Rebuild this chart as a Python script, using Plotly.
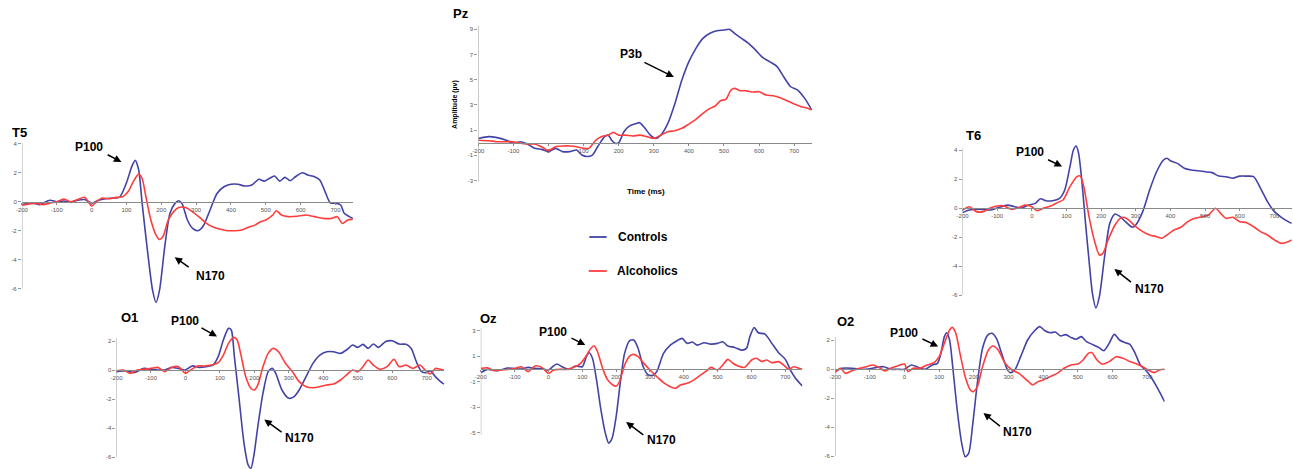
import plotly.graph_objects as go

W, H = 1293, 469
BLUE = "#4343a6"
RED = "#ff3d3d"
FONT = "Liberation Sans, Arial, sans-serif"

X_TICKS = [-200, -100, 0, 100, 200, 300, 400, 500, 600, 700]

# ---------------- data: (time ms, amplitude uV) ----------------
T5_CTRL = [(-200,-0.2),(-170,-0.1),(-150,-0.2),(-120,0.1),(-100,0.0),(-80,0.05),(-60,-0.05),(-40,0.1),(-20,0.15),(0,-0.1),
           (20,0.1),(40,0.2),(60,0.25),(80,0.3),(100,1.3),(115,2.4),(125,2.85),(135,2.2),(145,-0.1),(160,-3.3),
           (175,-6.1),(185,-6.95),(195,-6.1),(210,-3.1),(225,-0.8),(240,-0.1),(250,0.07),(260,-0.15),(275,-1.26),(290,-1.84),
           (305,-2.0),(320,-1.7),(340,-0.57),(360,0.57),(380,1.03),(400,1.2),(420,1.2),(440,1.08),(460,1.15),(480,1.55),
           (495,1.42),(510,1.6),(525,1.77),(540,1.42),(555,1.68),(570,1.45),(585,1.72),(605,2.0),(620,1.84),(640,1.72),
           (655,1.5),(670,0.7),(685,-0.07),(700,-0.1),(715,-0.23),(725,-0.8),(740,-1.03),(750,-1.15)]
T5_ALC = [(-200,-0.25),(-180,-0.15),(-160,-0.1),(-140,-0.2),(-120,-0.1),(-100,0.0),(-80,0.18),(-60,0.0),(-40,0.15),(-20,0.3),
          (0,-0.3),(10,-0.1),(30,0.25),(50,0.2),(70,0.3),(90,0.35),(105,0.7),(120,1.4),(135,1.9),(145,1.6),
          (155,0.46),(170,-1.26),(185,-2.3),(195,-2.6),(205,-2.4),(220,-1.26),(235,-0.7),(250,-0.4),(270,-0.4),(290,-0.7),
          (310,-1.08),(330,-1.5),(350,-1.77),(370,-1.9),(390,-2.0),(410,-2.0),(430,-1.95),(450,-1.77),(470,-1.6),(485,-1.38),
          (500,-1.26),(520,-0.92),(530,-0.62),(545,-0.92),(565,-1.03),(590,-1.0),(615,-0.92),(640,-1.03),(665,-1.15),(690,-1.15),
          (705,-1.03),(720,-1.5),(735,-1.26),(750,-1.2)]

PZ_CTRL = [(-200,0.34),(-170,0.48),(-150,0.42),(-120,0.2),(-100,-0.05),(-80,0.08),(-60,-0.1),(-40,-0.45),(-20,-0.53),(0,-0.71),
           (20,-0.45),(40,-0.71),(60,-0.71),(80,-0.58),(95,-0.98),(110,-1.1),(125,-0.98),(140,-0.32),(160,0.48),(170,0.6),
           (180,0.2),(190,-0.05),(200,0.0),(215,0.87),(230,1.32),(250,1.53),(260,1.59),(275,1.14),(290,0.6),(305,0.34),
           (320,0.6),(340,1.53),(360,3.1),(380,4.97),(400,6.43),(420,7.49),(440,8.28),(460,8.68),(480,8.89),(500,8.94),
           (515,9.0),(530,8.68),(550,8.28),(570,7.88),(590,7.35),(610,6.77),(630,6.43),(650,6.08),(670,5.24),(690,4.44),
           (710,4.18),(730,3.52),(750,2.6)]
PZ_ALC = [(-200,0.2),(-170,0.16),(-150,0.08),(-120,0.08),(-100,0.08),(-80,-0.05),(-60,-0.1),(-40,-0.1),(-20,-0.32),(0,-0.63),
          (20,-0.32),(40,-0.26),(60,-0.26),(80,-0.32),(100,-0.45),(115,-0.45),(135,0.2),(150,0.48),(170,0.6),(185,0.82),
          (200,0.6),(220,0.6),(240,0.53),(260,0.6),(280,0.48),(300,0.34),(320,0.6),(340,0.87),(360,0.95),(380,1.14),
          (400,1.48),(420,1.85),(440,2.33),(460,2.72),(475,2.91),(490,3.33),(505,3.44),(520,4.18),(530,4.31),(545,4.13),
          (560,4.13),(580,4.02),(600,4.05),(620,3.78),(640,3.73),(660,3.57),(680,3.33),(700,3.07),(720,2.86),(740,2.72),
          (750,2.6)]

T6_CTRL = [(-200,-0.32),(-180,-0.14),(-150,-0.09),(-120,-0.14),(-100,0.0),(-70,0.2),(-50,0.09),(-30,0.0),(-10,0.2),(10,0.32),
           (25,0.64),(40,0.5),(60,0.5),(80,0.67),(95,1.24),(110,2.85),(120,4.0),(128,4.28),(135,3.77),(145,1.7),
           (155,-1.06),(165,-3.6),(175,-5.9),(185,-6.9),(195,-6.1),(210,-3.36),(225,-1.06),(240,-0.41),(255,-0.6),(270,-0.94),
           (290,-1.33),(300,-1.17),(320,-0.25),(340,1.24),(360,2.5),(380,3.31),(390,3.43),(400,3.26),(420,3.08),(440,2.74),
           (460,2.62),(480,2.57),(500,2.5),(520,2.44),(540,2.2),(560,2.16),(580,2.05),(600,2.2),(620,2.2),(640,2.16),
           (660,1.36),(680,0.44),(700,-0.25),(720,-0.64),(740,-0.94),(750,-1.06)]
T6_ALC = [(-200,-0.14),(-180,0.09),(-160,-0.25),(-140,-0.25),(-120,0.0),(-100,0.14),(-80,0.14),(-60,-0.09),(-40,0.0),(-20,0.2),
          (0,0.09),(15,-0.18),(35,0.0),(55,0.14),(75,0.39),(90,0.55),(110,1.47),(130,2.16),(140,2.2),(150,1.47),
          (165,-0.6),(180,-2.2),(195,-3.24),(205,-3.13),(220,-2.2),(240,-1.17),(255,-0.71),(265,-0.64),(280,-0.83),(300,-1.29),
          (320,-1.63),(340,-1.86),(360,-1.98),(375,-2.09),(390,-1.86),(410,-1.52),(430,-1.33),(450,-0.94),(470,-0.71),(490,-0.6),
          (510,-0.48),(530,-0.02),(545,-0.37),(560,-0.71),(580,-0.64),(600,-0.94),(620,-1.01),(640,-1.29),(660,-1.63),(680,-1.86),
          (700,-2.2),(720,-2.44),(740,-2.32),(750,-2.2)]

O1_CTRL = [(-200,-0.11),(-170,-0.05),(-150,-0.18),(-120,0.11),(-100,0.05),(-80,0.0),(-60,0.0),(-40,0.18),(-20,0.11),(0,0.0),
           (20,0.28),(40,0.18),(60,0.23),(80,0.34),(95,0.92),(110,2.07),(125,2.87),(133,2.76),(142,0.92),(155,-1.84),
           (170,-5.06),(182,-6.55),(190,-6.78),(198,-5.98),(210,-3.9),(225,-1.6),(240,-0.11),(252,0.11),(262,-0.23),(280,-1.38),
           (300,-1.95),(315,-1.84),(330,-1.38),(350,-0.46),(370,0.46),(390,1.03),(410,1.26),(430,1.26),(450,1.15),(470,1.43),
           (485,1.72),(500,1.56),(515,1.77),(530,1.49),(545,1.79),(560,1.56),(580,1.95),(600,2.02),(620,1.79),(640,1.77),
           (655,1.49),(670,0.57),(685,-0.11),(700,-0.18),(710,-0.05),(725,-0.46),(740,-0.8),(750,-0.97)]
O1_ALC = [(-200,-0.05),(-180,0.0),(-160,-0.23),(-140,0.0),(-120,0.05),(-100,0.11),(-80,0.18),(-60,-0.11),(-40,0.18),(-20,0.23),
          (0,-0.23),(15,0.0),(35,0.28),(55,0.28),(75,0.34),(95,0.51),(110,1.03),(125,1.84),(140,2.25),(150,2.07),
          (160,1.15),(175,-0.46),(190,-1.26),(200,-1.38),(210,-1.03),(225,0.23),(240,1.15),(255,1.49),(270,1.26),(290,0.46),
          (310,-0.11),(330,-0.8),(350,-1.15),(370,-1.22),(390,-1.15),(410,-1.03),(430,-0.97),(450,-0.69),(470,-0.28),(485,0.0),
          (500,-0.11),(515,0.23),(530,0.69),(545,0.34),(565,0.05),(585,0.23),(605,0.74),(620,0.23),(640,0.34),(660,0.11),
          (680,0.34),(695,0.0),(710,-0.28),(725,0.11),(740,0.05),(750,0.0)]

OZ_CTRL = [(-200,-0.29),(-180,-0.03),(-150,-0.13),(-120,0.08),(-100,0.03),(-80,0.0),(-60,0.13),(-40,0.05),(-20,0.03),(0,-0.08),
           (15,0.24),(25,0.39),(40,0.18),(60,-0.03),(80,0.24),(100,0.18),(112,0.97),(120,1.28),(130,0.84),(142,-0.86),
           (155,-3.22),(168,-5.05),(178,-5.84),(188,-5.45),(200,-3.74),(212,-1.13),(225,1.23),(240,2.23),(252,2.28),(265,1.62),
           (280,0.18),(295,-0.47),(310,-0.47),(320,-0.21),(340,1.23),(360,1.88),(380,2.23),(395,2.41),(410,2.02),(425,2.12),
           (440,1.88),(460,2.07),(480,1.96),(500,2.02),(515,2.15),(530,1.81),(550,1.7),(570,1.49),(585,1.62),(595,2.54),
           (608,3.27),(620,2.85),(640,2.75),(660,2.02),(680,1.28),(700,0.76),(715,-0.08),(730,-0.73),(750,-1.34)]
OZ_ALC = [(-200,0.05),(-180,0.1),(-160,-0.13),(-140,-0.08),(-120,-0.03),(-100,0.03),(-80,0.18),(-60,-0.21),(-40,0.24),(-20,0.13),
          (0,-0.34),(15,-0.08),(35,-0.03),(55,-0.03),(75,0.13),(95,0.45),(110,0.97),(125,1.62),(135,1.83),(145,1.36),
          (160,0.05),(175,-0.86),(190,-1.26),(200,-1.34),(210,-0.99),(225,0.31),(240,1.02),(250,1.15),(265,0.97),(280,0.5),
          (300,-0.08),(320,-0.6),(340,-1.07),(360,-1.39),(375,-1.52),(390,-1.26),(410,-1.13),(430,-0.86),(450,-0.47),(470,-0.08),
          (480,0.13),(500,-0.08),(515,0.31),(530,0.76),(545,0.45),(560,0.24),(580,0.13),(600,0.71),(615,0.84),(630,0.58),
          (645,0.71),(660,0.5),(680,0.58),(695,0.31),(710,-0.03),(725,0.18),(740,0.05),(750,-0.03)]

O2_CTRL = [(-200,-0.18),(-180,0.05),(-150,0.05),(-120,-0.02),(-100,0.02),(-80,0.11),(-60,0.16),(-40,-0.02),(-20,-0.02),(0,-0.02),
           (20,0.28),(40,0.11),(60,-0.02),(80,0.28),(95,0.39),(105,1.08),(115,2.23),(122,2.5),(130,2.0),(140,-0.07),
           (152,-2.83),(165,-5.13),(175,-6.05),(185,-5.82),(197,-3.75),(210,-0.99),(225,1.43),(240,2.34),(252,2.46),(265,2.11),
           (280,1.08),(295,0.05),(305,-0.25),(318,-0.07),(335,0.85),(355,2.0),(375,2.64),(390,2.92),(405,2.64),(420,2.5),
           (435,2.55),(450,2.28),(465,2.37),(480,2.18),(495,2.05),(510,2.23),(525,1.89),(545,1.66),(560,1.49),(575,1.26),
           (590,1.77),(605,2.39),(620,2.0),(635,1.82),(650,1.7),(665,1.08),(680,0.28),(695,-0.07),(710,-0.53),(730,-1.33),
           (750,-2.25)]
O2_ALC = [(-200,-0.25),(-185,0.05),(-170,-0.3),(-150,-0.11),(-130,0.05),(-110,0.16),(-90,0.28),(-70,0.05),(-55,-0.14),(-40,0.05),
          (-20,0.21),(0,0.34),(10,-0.18),(25,0.05),(45,0.05),(65,0.28),(85,0.44),(100,0.85),(115,1.77),(130,2.69),
          (138,2.87),(148,2.46),(160,1.08),(175,-0.53),(190,-1.45),(198,-1.56),(210,-1.22),(225,0.16),(242,1.31),(255,1.59),
          (270,1.31),(290,0.39),(310,-0.07),(330,-0.3),(350,-0.71),(370,-1.1),(385,-0.87),(400,-0.76),(420,-0.53),(440,-0.3),
          (460,0.05),(480,0.28),(500,0.34),(515,0.62),(530,1.08),(540,1.13),(555,0.62),(570,0.34),(590,0.51),(610,0.85),
          (630,0.74),(650,0.51),(670,0.34),(690,0.11),(705,-0.11),(720,-0.25),(735,-0.07),(750,-0.02)]

PANEL_NAMES = ["T5", "Pz", "T6", "O1", "Oz", "O2"]
Y_TICKS = {
    "T5": [-6, -4, -2, 0, 2, 4],
    "Pz": [-3, -1, 1, 3, 5, 7, 9],
    "T6": [-6, -4, -2, 0, 2, 4],
    "O1": [-6, -4, -2, 0, 2],
    "Oz": [-5, -3, -1, 1, 3],
    "O2": [-6, -4, -2, 0, 2],
}
SERIES = {
    "T5": (T5_CTRL, T5_ALC), "Pz": (PZ_CTRL, PZ_ALC), "T6": (T6_CTRL, T6_ALC),
    "O1": (O1_CTRL, O1_ALC), "Oz": (OZ_CTRL, OZ_ALC), "O2": (O2_CTRL, O2_ALC),
}
LEGEND_NAMES = ["Controls", "Alcoholics"]

# ---------------- layout geometry (pixels) ----------------
GEOM = {
    "T5": dict(xa=16, xb=348.5, yz=201.7, k=14.5, lo=-7.5, hi=4.4, alo=-6, ahi=4.05),
    "Pz": dict(xa=474.5, xb=809.5, yz=142.7, k=12.6, lo=-3.4, hi=9.6, alo=-3.1, ahi=9.25),
    "T6": dict(xa=961, xb=1291.7, yz=208, k=14.5, lo=-7.3, hi=4.6, alo=-6, ahi=4.1),
    "O1": dict(xa=111, xb=440, yz=370, k=14.5, lo=-7.5, hi=3.2, alo=-6, ahi=2.2),
    "Oz": dict(xa=477, xb=800, yz=369, k=12.7, lo=-6.8, hi=3.9, alo=-5.2, ahi=3.25),
    "O2": dict(xa=833, xb=1164, yz=369, k=14.5, lo=-7.5, hi=3.2, alo=-6, ahi=2.2),
}
TITLE_POS = {"T5": (4, 133), "Pz": (447, 13.5), "T6": (962, 135.5),
             "O1": (114, 317.5), "Oz": (474, 318.5), "O2": (833, 321.5)}
LABELS = [  # text, center x, center y
    ("P100", 83.5, 147), ("N170", 205, 276),
    ("P3b", 627.5, 53.5),
    ("P100", 1029, 152), ("N170", 1148.5, 288.5),
    ("P100", 179.5, 320.5), ("N170", 295, 437.5),
    ("P100", 550, 331.5), ("N170", 658.5, 440),
    ("P100", 902.5, 332.5), ("N170", 1016.5, 432),
]
ARROWS = [  # tail x, tail y, tip x, tip y
    (100.7, 154, 116, 162), (185, 268.3, 169.5, 257.3),
    (640, 61.7, 671, 77),
    (1045.5, 159, 1061, 166.5), (1131.7, 283.3, 1113.5, 269),
    (195, 327, 212, 336.5), (278.3, 433.3, 259.5, 419.5),
    (566.7, 337.3, 582, 345), (641.7, 436, 623, 422),
    (919.3, 338.3, 936.5, 346.5), (1000, 427.3, 982, 413),
]


def px(x):
    return x / W


def py(y):
    return 1 - y / H


fig = go.Figure()
shapes = []
annotations = []
tick_font = dict(family=FONT, size=6, color="#555555")

for i, name in enumerate(PANEL_NAMES, start=1):
    s = "" if i == 1 else str(i)
    g = GEOM[name]
    top = g["yz"] - g["hi"] * g["k"]
    bot = g["yz"] - g["lo"] * g["k"]
    lo, hi = g["lo"], g["hi"]
    if bot > H:
        bot = H
        lo = (g["yz"] - H) / g["k"]
    if top < 0:
        top = 0
        hi = g["yz"] / g["k"]
    fig.layout["xaxis" + s] = dict(
        domain=[px(g["xa"]), px(g["xb"])], range=[-200, 750],
        anchor="free", position=py(g["yz"]),
        showline=True, linecolor="#8a8a8a", linewidth=1,
        showgrid=False, zeroline=False,
        tickmode="array", tickvals=X_TICKS, ticktext=[str(v) for v in X_TICKS],
        ticks="outside", ticklen=2, tickcolor="#8a8a8a", tickfont=tick_font,
        fixedrange=True,
    )
    yt = Y_TICKS[name]
    fig.layout["yaxis" + s] = dict(
        domain=[py(bot), py(top)], range=[lo, hi], anchor="x" + s,
        showline=False, showgrid=False, zeroline=False,
        tickmode="array", tickvals=yt, ticktext=[str(v) for v in yt],
        ticks="outside", ticklen=3, tickcolor="#9a9a9a", tickfont=tick_font,
        fixedrange=True,
    )
    shapes.append(dict(type="line", xref="x" + s, yref="y" + s,
                       x0=-200, x1=-200, y0=g["alo"], y1=g["ahi"],
                       line=dict(color="#a0a0a0", width=1)))
    ctrl, alc = SERIES[name]
    for pts, col in ((ctrl, BLUE), (alc, RED)):
        fig.add_trace(go.Scatter(
            x=[p[0] for p in pts], y=[p[1] for p in pts],
            xaxis="x" + s, yaxis="y" + s, mode="lines",
            line=dict(color=col, width=1.6, shape="spline", smoothing=0.7),
            showlegend=False, hoverinfo="skip"))
    tx, ty = TITLE_POS[name]
    annotations.append(dict(text="<b>" + name + "</b>", x=px(tx), y=py(ty),
                            xref="paper", yref="paper", xanchor="left", yanchor="middle",
                            showarrow=False, font=dict(family=FONT, size=13, color="black")))

for text, cx, cy in LABELS:
    annotations.append(dict(text="<b>" + text + "</b>", x=px(cx), y=py(cy),
                            xref="paper", yref="paper", xanchor="center", yanchor="middle",
                            showarrow=False, font=dict(family=FONT, size=12, color="black")))

for x0, y0, x1, y1 in ARROWS:
    annotations.append(dict(text="", x=px(x1), y=py(y1), ax=x0 - x1, ay=y0 - y1,
                            xref="paper", yref="paper", axref="pixel", ayref="pixel",
                            showarrow=True, arrowhead=2, arrowsize=1, arrowwidth=1.5,
                            arrowcolor="black", standoff=0, startstandoff=0))

# Pz axis titles
annotations.append(dict(text="<b>Time (ms)</b>", x=px(643), y=py(191.5), xref="paper", yref="paper",
                        xanchor="center", yanchor="middle", showarrow=False,
                        font=dict(family=FONT, size=8, color="black")))
annotations.append(dict(text="<b>Amplitude (µv)</b>", x=px(451), y=py(104), xref="paper", yref="paper",
                        xanchor="center", yanchor="middle", showarrow=False, textangle=-90,
                        font=dict(family=FONT, size=7, color="black")))

# legend
LEG_POS = [(586, 603.5, 612.5, 237), (585.5, 603.5, 611.5, 271)]
for (lx0, lx1, tx, ty), nm, col in zip(LEG_POS, LEGEND_NAMES, (BLUE, RED)):
    shapes.append(dict(type="line", xref="paper", yref="paper", x0=px(lx0), x1=px(lx1),
                       y0=py(ty), y1=py(ty), line=dict(color=col, width=1.8)))
    annotations.append(dict(text="<b>" + nm + "</b>", x=px(tx), y=py(ty), xref="paper", yref="paper",
                            xanchor="left", yanchor="middle", showarrow=False,
                            font=dict(family=FONT, size=12, color="black")))

fig.update_layout(
    width=W, height=H, autosize=False,
    margin=dict(l=0, r=0, t=0, b=0),
    paper_bgcolor="white", plot_bgcolor="rgba(0,0,0,0)",
    shapes=shapes, annotations=annotations, showlegend=False,
    font=dict(family=FONT),
)

fig.write_html(
    "out.html",
    config={"displayModeBar": False},
    post_script="document.body.style.margin='0';document.body.style.overflow='hidden';",
)
